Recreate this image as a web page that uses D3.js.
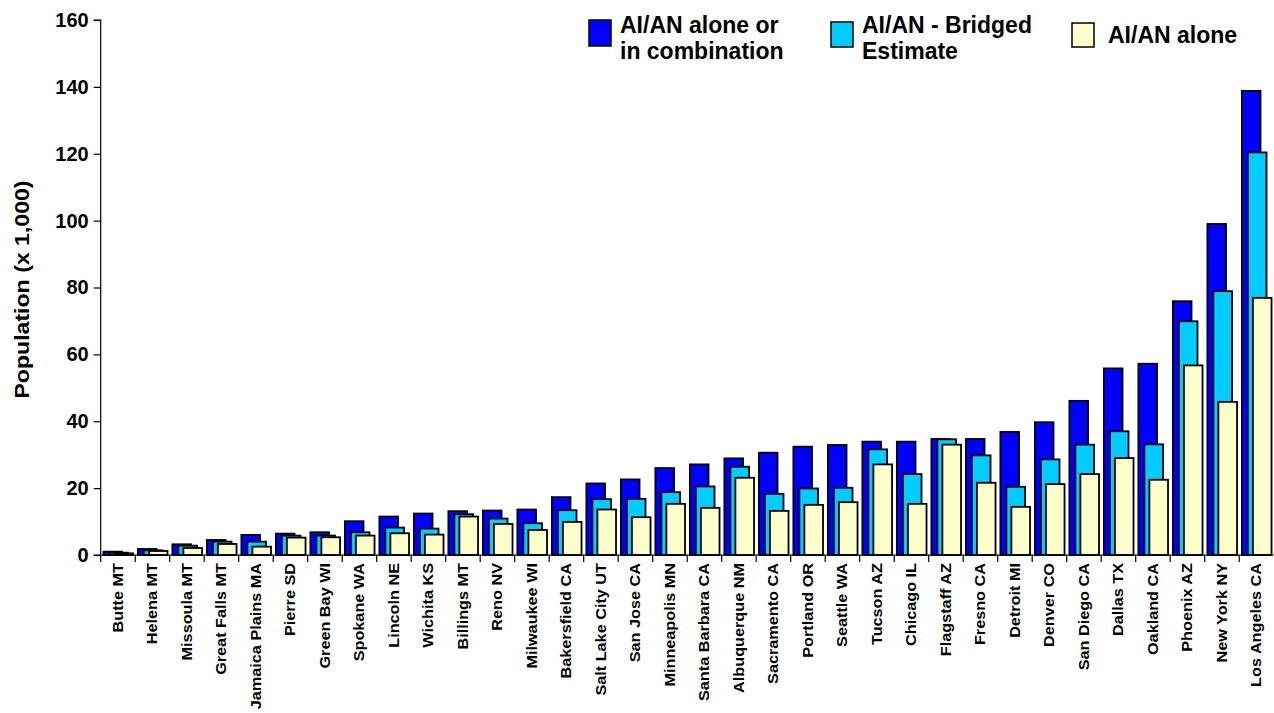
<!DOCTYPE html>
<html>
<head>
<meta charset="utf-8">
<script src="https://cdn.jsdelivr.net/npm/d3@7/dist/d3.min.js"></script>
<style>
  html, body { margin: 0; padding: 0; background: #fff; }
  svg { display: block; }
  text { font-family: "Liberation Sans", Arial, sans-serif; font-weight: bold; fill: #000; }
</style>
</head>
<body>
<svg id="chart" width="1274" height="713"></svg>
<script>
const cities = ["Butte MT","Helena MT","Missoula MT","Great Falls MT","Jamaica Plains MA","Pierre SD","Green Bay WI","Spokane WA","Lincoln NE","Wichita KS","Billings MT","Reno NV","Milwaukee WI","Bakersfield CA","Salt Lake City UT","San Jose CA","Minneapolis MN","Santa Barbara CA","Albuquerque NM","Sacramento CA","Portland OR","Seattle WA","Tucson AZ","Chicago IL","Flagstaff AZ","Fresno CA","Detroit MI","Denver CO","San Diego CA","Dallas TX","Oakland CA","Phoenix AZ","New York NY","Los Angeles CA"];
const aloneOrCombination = [1.0,1.8,3.2,4.5,6.0,6.4,6.8,10.1,11.5,12.4,13.1,13.3,13.6,17.3,21.4,22.6,26.0,27.1,28.9,30.6,32.4,32.9,33.9,33.9,34.7,34.7,36.8,39.7,46.1,55.8,57.2,75.9,99.0,138.8];
const bridgedEstimate = [0.7,1.4,2.8,4.0,4.0,5.8,5.8,6.8,8.2,7.9,12.2,10.9,9.5,13.4,16.7,16.8,18.8,20.5,26.4,18.3,19.9,20.1,31.6,24.2,34.6,29.8,20.4,28.6,33.0,37.0,33.1,69.9,78.9,120.4];
const aloneOnly = [0.5,1.2,2.1,3.3,2.5,5.2,5.3,5.8,6.5,6.1,11.5,9.3,7.5,9.9,13.6,11.3,15.3,14.1,23.1,13.2,15.0,15.8,27.1,15.3,33.0,21.6,14.4,21.2,24.2,29.0,22.5,56.7,45.8,76.9];
const yTicks = [0,20,40,60,80,100,120,140,160];
const seriesNames = [["AI/AN alone or","in combination"],["AI/AN - Bridged","Estimate"],["AI/AN alone"]];
const seriesColors = ["#0000FF","#00CCFF","#FFFFCC"];

const svg = d3.select("#chart");
const pLeft = 100.7, pRight = 1273.7, pTop = 20, pBottom = 555;

const x = d3.scaleBand().domain(cities).range([pLeft, pRight]).padding(0);
const y = d3.scaleLinear().domain([0,160]).range([pBottom, pTop]);
const bw = x.bandwidth();

const series = [aloneOrCombination, bridgedEstimate, aloneOnly];
const offsets = [0.078, 0.252, 0.397];
const barW = 0.54;

series.forEach((vals, si) => {
  svg.append("g").selectAll("rect").data(cities).join("rect")
    .attr("x", (d) => x(d) + offsets[si]*bw)
    .attr("y", (d,i) => y(vals[i]))
    .attr("width", barW*bw)
    .attr("height", (d,i) => y(0) - y(vals[i]))
    .attr("fill", seriesColors[si])
    .attr("stroke", "#000")
    .attr("stroke-width", 1.8);
});

// Y axis
const yAxis = d3.axisLeft(y).tickValues(yTicks).tickSize(7).tickPadding(5);
const yg = svg.append("g").attr("transform", `translate(${pLeft},0)`).call(yAxis);
yg.select(".domain").attr("stroke", "#000").attr("stroke-width", 1.2).attr("d", `M-7,${pTop}H0V${pBottom}H-7`);
yg.selectAll(".tick line").attr("stroke", "#000").attr("stroke-width", 1.2);
yg.selectAll(".tick text").style("font-size", "20px").style("font-family", "Liberation Sans, Arial, sans-serif").style("font-weight", "bold").attr("fill", "#000");

// X axis baseline and boundary ticks
svg.append("line").attr("x1", pLeft).attr("x2", pRight).attr("y1", pBottom).attr("y2", pBottom)
  .attr("stroke", "#000").attr("stroke-width", 1.2);
svg.append("g").selectAll("line").data(cities).join("line")
  .attr("x1", d => x(d)).attr("x2", d => x(d))
  .attr("y1", pBottom).attr("y2", pBottom + 7)
  .attr("stroke", "#000").attr("stroke-width", 1.2);

// X labels
svg.append("g").selectAll("text").data(cities).join("text")
  .attr("transform", d => `translate(${x(d) + bw/2 + 5},${pBottom + 8}) rotate(-90) scale(1.16,1)`)
  .attr("text-anchor", "end")
  .style("font-size", "14px")
  .text(d => d);

// Y title
svg.append("text")
  .attr("transform", `translate(29,${(pTop+pBottom)/2 + 2}) rotate(-90) scale(1.1,1)`)
  .attr("text-anchor", "middle")
  .style("font-size", "21px")
  .text("Population (x 1,000)");

// Legend
const legendX = [589, 831, 1072];
const legendBoxY = [20, 22, 23];
const legendBoxH = [26, 25, 24];
seriesNames.forEach((lines, i) => {
  const g = svg.append("g");
  g.append("rect").attr("x", legendX[i]).attr("y", legendBoxY[i]).attr("width", 22).attr("height", legendBoxH[i])
    .attr("fill", seriesColors[i]).attr("stroke", "#000").attr("stroke-width", 1.5);
  const tx = legendX[i] + (i === 2 ? 36 : 31);
  if (lines.length === 2) {
    g.append("text").attr("x", tx).attr("y", 33).style("font-size", "23px").text(lines[0]);
    g.append("text").attr("x", tx).attr("y", 59).style("font-size", "23px").text(lines[1]);
  } else {
    g.append("text").attr("x", tx).attr("y", 43).style("font-size", "23px").text(lines[0]);
  }
});
</script>
</body>
</html>
